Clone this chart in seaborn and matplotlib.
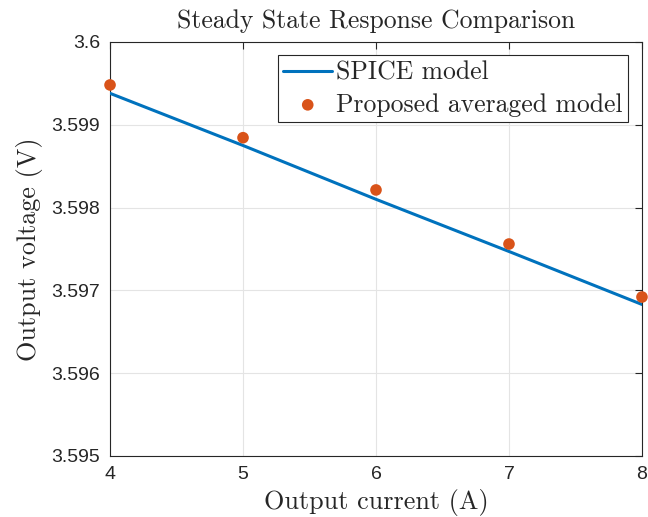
import matplotlib
matplotlib.use("Agg")
import matplotlib.pyplot as plt
import seaborn as sns
import pandas as pd

current_A = [4, 5, 6, 7, 8]
spice_V = [3.59938, 3.59875, 3.59810, 3.59747, 3.59683]
avg_V = [3.599481, 3.598844, 3.598213, 3.597560, 3.596920]
xticks = [4, 5, 6, 7, 8]
yticks = [3.595, 3.596, 3.597, 3.598, 3.599, 3.6]
ytick_labels = ["3.595", "3.596", "3.597", "3.598", "3.599", "3.6"]

sns.set_style("white")
plt.rcParams["font.family"] = ["Liberation Sans", "DejaVu Sans"]
plt.rcParams["mathtext.fontset"] = "cm"

df_line = pd.DataFrame({"x": current_A, "y": spice_V})
df_pts = pd.DataFrame({"x": current_A, "y": avg_V})

fig = plt.figure(figsize=(6.48, 5.17), dpi=100)
ax = fig.add_axes([0.1698, 0.1180, 0.8209, 0.8008])

sns.lineplot(data=df_line, x="x", y="y", ax=ax, color="#0072BD", linewidth=2.2,
             label="SPICE model", zorder=3)
sns.scatterplot(data=df_pts, x="x", y="y", ax=ax, color="#D95319", s=70,
                edgecolor="none", label="Proposed averaged model", zorder=4,
                clip_on=False)

ax.set_xlim(4, 8)
ax.set_ylim(3.595, 3.6)
ax.set_xticks(xticks)
ax.set_xticklabels([str(t) for t in xticks])
ax.set_yticks(yticks)
ax.set_yticklabels(ytick_labels)
ax.grid(True, color="#e4e4e4", linewidth=0.8)
ax.set_axisbelow(True)

for s in ax.spines.values():
    s.set_visible(True)
    s.set_color("#262626")
    s.set_linewidth(0.8)
ax.tick_params(direction="in", length=5, width=0.8, color="#262626",
               labelsize=14, labelcolor="#262626", top=True, right=True, pad=7)

cm = {"family": "cmr10", "size": 18.8}
ax.set_xlabel("Output current (A)", fontdict=cm, labelpad=4.5)
ax.set_ylabel("Output voltage (V)", fontdict=cm, labelpad=6)
ax.set_title("Steady State Response Comparison", fontdict={"family": "cmr10", "size": 18.5}, pad=10)

leg = ax.legend(loc="upper right", bbox_to_anchor=(0.974, 0.968), frameon=True,
                fancybox=False, framealpha=1, edgecolor="#262626",
                prop={"family": "cmr10", "size": 18.5}, borderpad=0.22,
                handlelength=1.9, handletextpad=0.15, labelspacing=0.32,
                borderaxespad=0)
leg.get_frame().set_linewidth(0.8)

fig.savefig("out.png", dpi=100)
